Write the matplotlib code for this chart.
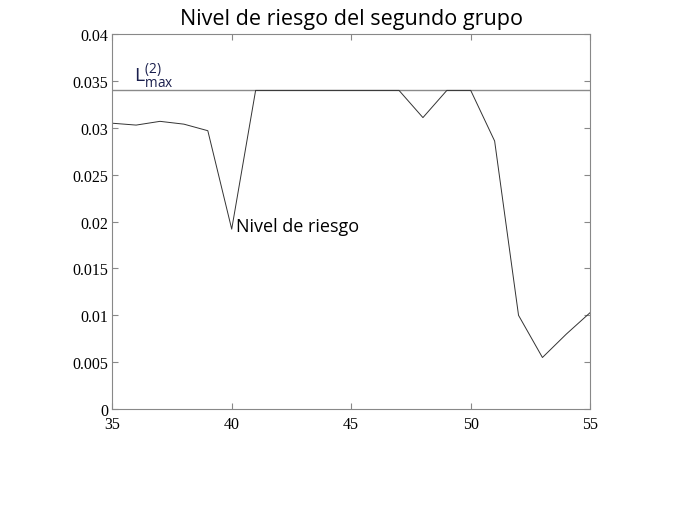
import matplotlib

matplotlib.use("Agg")
import matplotlib.pyplot as plt

# risk level of the second group, capped at the limit line
x_vals = [35, 36, 37, 38, 39, 40, 41, 42, 43, 44, 45, 46, 47, 48, 49, 50, 51, 52, 53, 54, 55]
risk = [0.0305, 0.0303, 0.0307, 0.0304, 0.0297, 0.0192, 0.034, 0.034, 0.034, 0.034, 0.034,
        0.034, 0.034, 0.0311, 0.034, 0.034, 0.0286, 0.0100, 0.0055, 0.0080, 0.0103]
l_max = 0.034
x_ticks = [35, 40, 45, 50, 55]
y_ticks = [0, 0.005, 0.01, 0.015, 0.02, 0.025, 0.03, 0.035, 0.04]
y_labels = ["0", "0.005", "0.01", "0.015", "0.02", "0.025", "0.03", "0.035", "0.04"]

plt.rcParams["mathtext.fontset"] = "custom"
plt.rcParams["mathtext.rm"] = "Open Sans"

fig = plt.figure(figsize=(6.8, 5.1), dpi=100)
ax = fig.add_axes([0.165, 0.196, 0.703, 0.735])

ax.axhline(l_max, color="#8a8a8a", lw=1.0)
ax.plot(x_vals, risk, color="#333333", lw=0.7)

ax.set_xlim(35, 55)
ax.set_ylim(0, 0.04)
ax.set_xticks(x_ticks)
ax.set_yticks(y_ticks)
ax.set_yticklabels(y_labels)
ax.tick_params(direction="in", top=True, right=True, length=4, color="#888888",
               labelsize=11.5)
ax.tick_params(axis="x", pad=5)
ax.tick_params(axis="y", pad=3)
for lab in ax.get_xticklabels() + ax.get_yticklabels():
    lab.set_family("Liberation Serif")
for sp in ax.spines.values():
    sp.set_color("#888888")
    sp.set_linewidth(0.8)

fig.text(0.517, 0.962, "Nivel de riesgo del segundo grupo", ha="center", va="center",
         fontsize=15.5, family="Open Sans")
ax.text(40.2, 0.0195, "Nivel de riesgo", fontsize=13, family="Open Sans", va="center")
ax.text(35.9, 0.0355, r"$\mathrm{L}_{\mathrm{max}}^{(2)}$", fontsize=14, color="#1a1f4d",
        va="center")

fig.savefig("out.png", dpi=100)
